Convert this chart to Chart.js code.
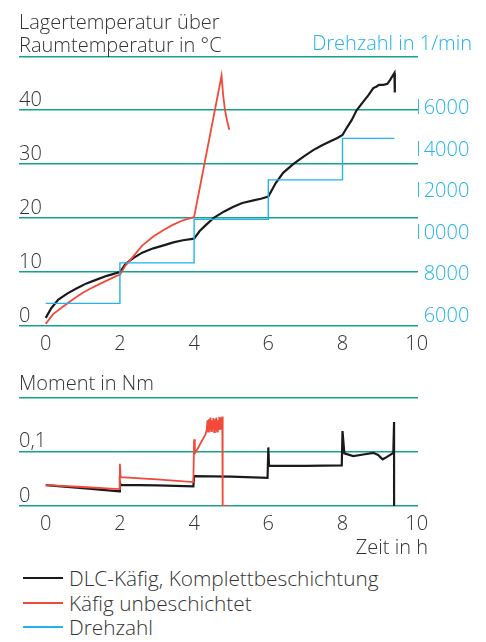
<!DOCTYPE html>
<html lang="de">
<head>
<meta charset="utf-8">
<script src="https://cdn.jsdelivr.net/npm/chart.js@4/dist/chart.umd.min.js"></script>
<style>
  html, body { margin: 0; padding: 0; background: #fff; }
  #wrap { position: relative; width: 486px; height: 642px; overflow: hidden;
          font-family: 'Open Sans', sans-serif; font-weight: 300; font-size: 20px; line-height: 22.7px; color: #333; }
  canvas { position: absolute; left: 0; }
  .txt { position: absolute; white-space: nowrap; }
  .key { position: absolute; left: 23px; width: 40px; height: 2px; }
  .leg { font-size: 20.8px; }
</style>
</head>
<body>
<div id="wrap">
  <canvas id="tempChart" width="486" height="360" style="top:0"></canvas>
  <canvas id="torqueChart" width="486" height="180" style="top:360px"></canvas>

  <div class="txt" style="left:19px;top:11px;font-size:20px">Lagertemperatur über<br>Raumtemperatur in °C</div>
  <div class="txt" style="right:14px;top:32px;color:#22b3ea;font-size:20px">Drehzahl in 1/min</div>
  <div class="txt" style="left:19px;top:372px">Moment in Nm</div>
  <div class="txt" style="right:58px;top:536px">Zeit in h</div>

  <div class="key" style="top:577px;background:#1a1a1a"></div>
  <div class="txt leg" style="left:69px;top:567px">DLC-Käfig, Komplettbeschichtung</div>
  <div class="key" style="top:602px;background:#f04a3a"></div>
  <div class="txt leg" style="left:69px;top:591.5px">Käfig unbeschichtet</div>
  <div class="key" style="top:626px;background:#22b3ea"></div>
  <div class="txt leg" style="left:69px;top:616px">Drehzahl</div>
</div>

<script>
// Time axis ticks (hours) and value axis ticks
const timeTicks = [0, 2, 4, 6, 8, 10];
const tempTicks = [0, 10, 20, 30, 40, 50];
const speedTicks = [6000, 8000, 10000, 12000, 14000, 16000];
const torqueTicks = [0, 0.1, 0.2];

// Bearing temperature above ambient [h, °C]
const tempDlc = [
  [0, 1.5], [0.15, 3.3], [0.34, 4.9], [0.6, 6.1], [0.84, 7.0], [1.1, 7.9], [1.37, 8.6], [1.65, 9.3], [2, 10.0],
  [2.15, 11.5], [2.36, 12.6], [2.6, 13.6], [2.9, 14.4], [3.2, 15.0], [3.44, 15.5], [3.7, 15.9], [4, 16.2],
  [4.15, 17.6], [4.3, 18.6], [4.52, 20.0], [4.8, 21.2], [5.06, 22.1], [5.3, 22.8], [5.6, 23.3], [5.8, 23.6], [6, 24.0],
  [6.2, 26.5], [6.4, 28.4], [6.67, 30.0], [6.95, 31.4], [7.21, 32.6], [7.45, 33.5], [7.66, 34.2], [7.85, 34.8], [8, 35.4],
  [8.11, 36.7], [8.25, 38.2], [8.38, 40.0], [8.56, 41.6], [8.70, 42.8], [8.83, 44.1], [8.92, 44.4], [8.98, 44.7],
  [9.10, 44.7], [9.21, 44.9], [9.28, 45.6], [9.40, 46.9], [9.41, 43.3]
];
const tempUncoated = [
  [0, 0.4], [0.2, 2.2], [0.47, 3.6], [0.75, 5.0], [1.01, 6.2], [1.25, 7.1], [1.46, 7.8], [1.7, 8.6], [1.91, 9.3], [2, 9.5],
  [2.15, 11.2], [2.36, 12.9], [2.6, 14.9], [2.9, 16.6], [3.2, 17.9], [3.44, 18.8], [3.7, 19.6], [4, 20.2],
  [4.74, 46.4], [4.78, 43.0], [4.83, 40.1], [4.89, 38.0], [4.95, 36.4]
];
// Speed steps [h, 1/min]
const speed = [[0, 6600], [2, 8550], [4, 10650], [6, 12550], [8, 14550], [9.4, 14550]];

// Friction torque [h, Nm]
const torqueDlc = [
  [0, 0.0385], [1, 0.033], [1.99, 0.027], [2, 0.043], [2.02, 0.039], [3, 0.038], [3.98, 0.036],
  [4, 0.055], [5, 0.054], [5.98, 0.052], [6, 0.108], [6.02, 0.074], [7, 0.074], [7.98, 0.075],
  [8, 0.138], [8.05, 0.097], [8.29, 0.092], [8.56, 0.095], [8.83, 0.098], [8.96, 0.094], [9.08, 0.086],
  [9.19, 0.090], [9.37, 0.098], [9.39, 0.155], [9.39, 0]
];
const torqueUncoated = [
  [0, 0.0385], [1, 0.035], [1.98, 0.031], [2, 0.078], [2.02, 0.053], [3, 0.049], [3.98, 0.044],
  [4, 0.123], [4.02, 0.097], [4.1, 0.106], [4.2, 0.119], [4.3, 0.131], [4.34, 0.140],
  [4.36, 0.158], [4.38, 0.137], [4.40, 0.160], [4.42, 0.140], [4.44, 0.163], [4.46, 0.138], [4.48, 0.158],
  [4.50, 0.141], [4.52, 0.162], [4.54, 0.136], [4.56, 0.160], [4.58, 0.139], [4.60, 0.163], [4.62, 0.137],
  [4.64, 0.158], [4.66, 0.140], [4.68, 0.164], [4.70, 0.142], [4.72, 0.163], [4.74, 0.145], [4.76, 0.165],
  [4.77, 0], [4.95, 0]
];

const GRID = '#12a38a', TEXT = '#333333', BLUE = '#22b3ea', RED = '#f04a3a', BLACK = '#1a1a1a';
const FONT = { family: "'Open Sans', sans-serif", size: 20, weight: 300 };
const pts = arr => arr.map(([x, y]) => ({ x, y }));
const fixTicks = list => scale => { scale.ticks = list.map(v => ({ value: v })); };
const deComma = v => String(Math.round(v * 100) / 100).replace('.', ',');

function timeAxis() {
  return {
    type: 'linear', min: -0.72, max: 10.035,
    afterBuildTicks: fixTicks(timeTicks),
    afterFit: s => { s.height = 34; },
    grid: { display: false, drawTicks: false }, border: { display: false },
    ticks: { font: FONT, color: TEXT, padding: 6, maxRotation: 0, autoSkip: false }
  };
}

function line(data, color, width, extra) {
  return Object.assign({ data: pts(data), borderColor: color, borderWidth: width, pointRadius: 0,
    tension: 0, fill: false }, extra || {});
}

const common = {
  responsive: false, animation: false, devicePixelRatio: 1,
  plugins: { legend: { display: false }, tooltip: { enabled: false } },
  events: []
};

new Chart(document.getElementById('tempChart'), {
  type: 'line',
  data: {
    datasets: [
      line(speed, BLUE, 1.4, { yAxisID: 'speed', stepped: 'before' }),
      line(tempUncoated, RED, 1.8, { yAxisID: 'temp' }),
      line(tempDlc, BLACK, 2.2, { yAxisID: 'temp' })
    ]
  },
  options: Object.assign({}, common, {
    layout: { padding: { left: 19, top: 56.3, right: 16.7, bottom: 0 } },
    scales: {
      x: timeAxis(),
      temp: {
        type: 'linear', position: 'left', min: 0, max: 50,
        afterBuildTicks: fixTicks(tempTicks),
        afterFit: s => { s.width = 0; },
        grid: { color: GRID, lineWidth: 1.5, drawTicks: false }, border: { display: false },
        ticks: { mirror: true, padding: 0, labelOffset: -10, font: FONT, color: TEXT,
                 callback: v => (v === 50 ? '' : String(v)) }
      },
      speed: {
        type: 'linear', position: 'right', min: 5509, max: 18508,
        afterBuildTicks: fixTicks(speedTicks),
        afterFit: s => { s.width = 51.3; },
        grid: { display: false, drawTicks: false }, border: { display: false },
        ticks: { crossAlign: 'far', padding: 0, font: FONT, color: BLUE, callback: v => String(v) }
      }
    }
  })
});

new Chart(document.getElementById('torqueChart'), {
  type: 'line',
  data: {
    datasets: [
      line(torqueUncoated, RED, 1.8, { yAxisID: 'torque' }),
      line(torqueDlc, BLACK, 2.2, { yAxisID: 'torque' })
    ]
  },
  options: Object.assign({}, common, {
    layout: { padding: { left: 19, top: 37.5, right: 68, bottom: 0 } },
    scales: {
      x: timeAxis(),
      torque: {
        type: 'linear', position: 'left', min: 0, max: 0.2,
        afterBuildTicks: fixTicks(torqueTicks),
        afterFit: s => { s.width = 0; },
        grid: { color: GRID, lineWidth: 1.5, drawTicks: false }, border: { display: false },
        ticks: { mirror: true, padding: 0, labelOffset: -10, font: FONT, color: TEXT,
                 callback: v => (v >= 0.19 ? '' : deComma(v)) }
      }
    }
  })
});
</script>
</body>
</html>
